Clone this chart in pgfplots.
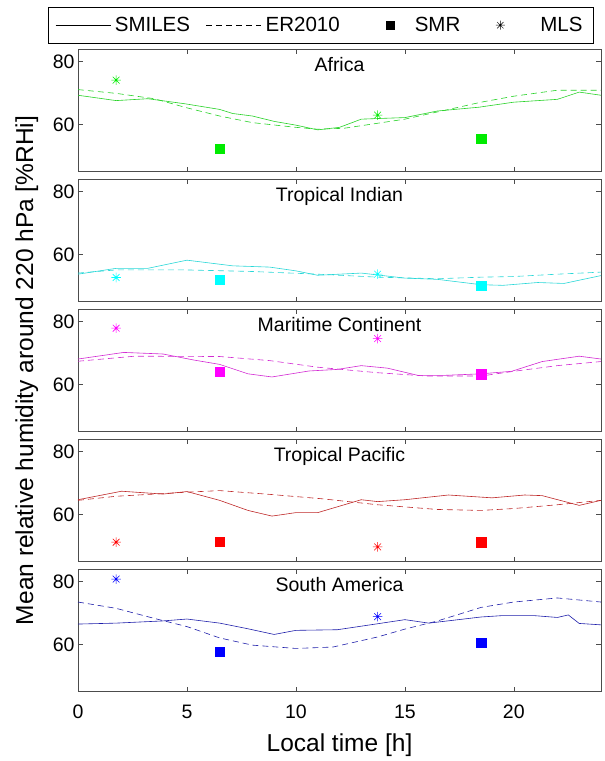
\documentclass[border=0pt]{standalone}
\usepackage{pgfplots}
\pgfplotsset{compat=1.18}
\usepackage{fontspec}
\setmainfont{Liberation Sans}
\newcommand{\tickfont}{\fontsize{19.5}{22}\selectfont}
\newcommand{\legfont}{\fontsize{20.5}{24}\selectfont}
\newcommand{\labfont}{\fontsize{24.5}{28}\selectfont}
\definecolor{gM}{RGB}{0,235,0}\definecolor{gL}{RGB}{40,210,40}
\definecolor{cM}{RGB}{0,255,255}\definecolor{cL}{RGB}{40,215,215}
\definecolor{mM}{RGB}{255,0,255}\definecolor{mL}{RGB}{210,40,210}
\definecolor{rM}{RGB}{255,0,0}\definecolor{rL}{RGB}{190,40,40}
\definecolor{bM}{RGB}{0,0,255}\definecolor{bL}{RGB}{30,30,170}
\pgfdeclareplotmark{mstar}{%
 \pgfpathmoveto{\pgfqpoint{-\pgfplotmarksize}{0pt}}\pgfpathlineto{\pgfqpoint{\pgfplotmarksize}{0pt}}%
 \pgfpathmoveto{\pgfqpoint{0pt}{-\pgfplotmarksize}}\pgfpathlineto{\pgfqpoint{0pt}{\pgfplotmarksize}}%
 \pgfpathmoveto{\pgfqpoint{-.7071\pgfplotmarksize}{-.7071\pgfplotmarksize}}\pgfpathlineto{\pgfqpoint{.7071\pgfplotmarksize}{.7071\pgfplotmarksize}}%
 \pgfpathmoveto{\pgfqpoint{-.7071\pgfplotmarksize}{.7071\pgfplotmarksize}}\pgfpathlineto{\pgfqpoint{.7071\pgfplotmarksize}{-.7071\pgfplotmarksize}}%
 \pgfusepathqstroke}
\pgfplotsset{
 panel/.style={
  width=523pt, height=122.7pt, scale only axis,
  xmin=0, xmax=24, ymin=45, ymax=84,
  xtick={0,5,10,15,20}, ytick={60,80},
  tick align=inside, major tick length=5pt,
  axis line style={black!70, line width=0.6pt},
  tick style={black!70, line width=0.5pt},
  tick label style={font=\tickfont},
  xticklabel style={yshift=-10pt},
  /pgf/number format/assume math mode=true,
  title style={at={(axis description cs:0.5,1)}, anchor=north, yshift=-14pt, inner sep=0pt, font=\tickfont},
 },
 sm/.style={line width=0.6pt, solid},
 er/.style={line width=0.6pt, dash pattern=on 6pt off 4pt},
 smr/.style={only marks, mark=square*, mark size=4.6pt},
 mls/.style={only marks, mark=mstar, mark size=4.8pt, line width=0.6pt},
 legline/.style={legend image code/.code={\draw[##1] (0pt,0pt) -- (55pt,0pt);}},
 legsq/.style={legend image code/.code={\path[draw=none,fill=none] (0pt,-3pt) rectangle (55pt,3pt); \draw[##1] plot coordinates {(35pt,0pt)};}},
 legst/.style={legend image code/.code={\path[draw=none,fill=none] (0pt,-3pt) rectangle (60pt,3pt); \draw[##1] plot coordinates {(24pt,0pt)};}},
}
\begin{document}
\begin{tikzpicture}
% ---------- Africa ----------
\begin{axis}[panel, at={(0pt,0pt)}, anchor=north west, title={Africa}, xticklabels={},
  legend columns=4,
  legend style={draw=black, line width=0.6pt, font=\legfont, at={(axis description cs:0,1)}, anchor=north west, xshift=-30pt, yshift=42pt,
    inner xsep=7pt, inner ysep=8pt, nodes={inner ysep=2pt, inner xsep=4pt},
    /tikz/every even column/.append style={column sep=12pt}}]
\addlegendimage{black, line width=0.6pt, solid, legline}
\addlegendentry{SMILES}
\addlegendimage{black, line width=0.6pt, dash pattern=on 6pt off 4pt, legline}
\addlegendentry{ER2010}
\addlegendimage{black, only marks, mark=square*, mark size=4pt, legsq}
\addlegendentry{SMR}
\addlegendimage{black, only marks, mark=mstar, mark size=4.5pt, line width=0.5pt, legst}
\addlegendentry{MLS}
\addplot[sm, gL, forget plot] coordinates {(0,69.3)(1.75,67.6)(3.2,68.2)(4.9,66.6)(6.5,64.8)(7.1,63.5)(8,62.7)(9,61)(10,59.8)(11,58.3)(12,59.1)(13,61.7)(13.75,61.9)(15,62.2)(16.5,64.3)(18.4,65.5)(20,67.1)(22,68)(23,70.3)(24,69.3)};
\addplot[er, gL, forget plot] coordinates {(0,71.1)(1.75,69.9)(3.5,68.2)(5,65.3)(6.5,62.7)(8,60.6)(10,59.1)(11,58.5)(12.2,58.8)(13.75,60.4)(15,61.7)(16.5,64)(18.5,67.1)(20,69)(22,70.9)(24,70.9)};
\addplot[smr, gM, forget plot] coordinates {(6.5,52.4)(18.5,55.4)};
\addplot[mls, gM, forget plot] coordinates {(1.75,74.1)(13.75,63.0)};
\end{axis}
% ---------- Tropical Indian ----------
\begin{axis}[panel, at={(0pt,-130pt)}, anchor=north west, title={Tropical Indian}, xticklabels={}]
\addplot[sm, cL] coordinates {(0,53.75)(1.75,55.6)(3.2,55.6)(5,58.2)(7.1,56.4)(8.8,56)(10,54.8)(11,53.4)(13,54.1)(13.75,53.5)(15,52.5)(16.5,52.1)(18.5,50.4)(19.5,50.2)(21.1,51.1)(22.3,50.8)(24,53.3)};
\addplot[er, cL] coordinates {(0,54.1)(1.75,55.1)(5,55.1)(8,54.6)(11,53.75)(13.75,52.8)(16.5,52.3)(18.5,52.8)(20,53)(22,53.75)(24,54.4)};
\addplot[smr, cM] coordinates {(6.5,51.9)(18.5,50.1)};
\addplot[mls, cM] coordinates {(1.75,52.7)(13.75,53.75)};
\end{axis}
% ---------- Maritime Continent ----------
\begin{axis}[panel, at={(0pt,-260pt)}, anchor=north west, title={Maritime Continent}, xticklabels={},
  ylabel={Mean relative humidity around 220 hPa [\%RHi]},
  ylabel style={font=\labfont, at={(axis description cs:-0.086,0.5)}, anchor=base}]
\addplot[sm, mL] coordinates {(0,68.1)(2.1,70.2)(3.9,69.7)(5.3,67.8)(6.5,66.4)(7.8,63.4)(8.9,62.4)(10.6,64.3)(11.9,64.8)(13,66)(14.2,65.2)(15.6,62.9)(16.8,62.9)(18.5,63.4)(19.9,64.2)(21.3,67.3)(23,69)(24,68.1)};
\addplot[er, mL] coordinates {(0,67.4)(2.6,69)(6.5,68.9)(8.8,67.6)(11,65.5)(13.75,63.75)(16,62.7)(18.5,62.7)(20,64.2)(22,66)(24,67.3)};
\addplot[smr, mM] coordinates {(6.5,64)(18.5,63.3)};
\addplot[mls, mM] coordinates {(1.75,77.9)(13.75,74.6)};
\end{axis}
% ---------- Tropical Pacific ----------
\begin{axis}[panel, at={(0pt,-390pt)}, anchor=north west, title={Tropical Pacific}, xticklabels={}]
\addplot[sm, rL] coordinates {(0,64.7)(2,67.4)(3.9,66.5)(5,67.3)(6.5,64.5)(7.8,61.3)(8.9,59.5)(10,60.6)(11,60.6)(13,64.7)(13.75,64.1)(15,64.7)(17,66.2)(19,65.3)(20.5,66.2)(21.3,66)(23,62.9)(24,64.5)};
\addplot[er, rL] coordinates {(0,64.5)(1.75,65.8)(5,67.1)(6.5,67.6)(8.8,66.4)(11.2,65)(13.75,63.1)(16.5,61.6)(18.5,61.3)(20,61.9)(22,63.1)(24,64.5)};
\addplot[smr, rM] coordinates {(6.5,51.4)(18.5,51.2)};
\addplot[mls, rM] coordinates {(1.75,51.2)(13.75,49.7)};
\end{axis}
% ---------- South America ----------
\begin{axis}[panel, at={(0pt,-520pt)}, anchor=north west, title={South America},
  xlabel={Local time [h]},
  xlabel style={font=\labfont, at={(axis description cs:0.5,-0.4914)}, anchor=base}]
\addplot[sm, bL] coordinates {(0,66.5)(1.75,66.8)(3.9,67.5)(5,68.1)(6.5,66.8)(7.8,65)(9,63.2)(10,64.5)(11.9,64.7)(13.75,66.6)(15,67.9)(16.1,66.8)(18.5,68.75)(19.5,69.2)(20.9,69.2)(22,68.6)(22.5,69.4)(23,66.7)(24,66.25)};
\addplot[er, bL] coordinates {(0,73.5)(1.75,71.5)(3.5,68.3)(5,65.7)(6.5,62.1)(8,59.8)(10,58.75)(11.7,59.2)(13.75,62.4)(15,64.9)(16.5,67.5)(18.5,71.8)(20,73.5)(22,74.8)(24,73.5)};
\addplot[smr, bM] coordinates {(6.5,57.6)(18.5,60.5)};
\addplot[mls, bM] coordinates {(1.75,80.8)(13.75,68.85)};
\end{axis}
\pgfresetboundingbox
\path (-78pt,49pt) rectangle (527pt,-712pt);
\end{tikzpicture}
\end{document}
